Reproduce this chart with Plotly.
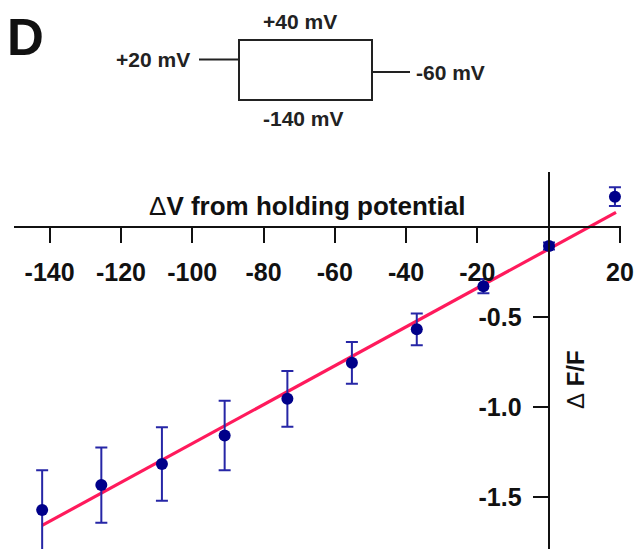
import plotly.graph_objects as go

# ---- data ----
dv_mv = [-142.1, -125.5, -108.5, -90.9, -73.3, -55.2, -37.0, -18.3, 0.1, 18.6]
dff = [-1.574, -1.435, -1.318, -1.159, -0.956, -0.756, -0.570, -0.330, -0.107, 0.167]
dff_err = [0.222, 0.209, 0.204, 0.193, 0.155, 0.116, 0.088, 0.040, 0.020, 0.052]

fit_x = [-142.1, 18.9]
fit_y = [-1.659, 0.080]

x_tick_vals = [-140, -120, -100, -80, -60, -40, -20, 20]
x_tick_text = ["-140", "-120", "-100", "-80", "-60", "-40", "-20", "20"]
y_tick_vals = [-1.5, -1.0, -0.5]
y_tick_text = ["-1.5", "-1.0", "-0.5"]

protocol_labels = ["+40 mV", "-140 mV", "+20 mV", "-60 mV"]
panel_label = "D"
x_title = "<span style='font-weight:normal'>Δ</span>V from holding potential"
y_title = "<span style='font-weight:normal'>Δ</span> F/F"

# ---- layout geometry ----
W, H = 642, 549
ML, MR, MT, MB = 14, 21, 172, 0
PW, PH = W - ML - MR, H - MT - MB
x_range = [-150.0, 20.3]
y_range = [-1.79, 0.304]

def px(xp):
    return (xp - ML) / PW

def py(yp):
    return (H - MB - yp) / PH

FONT = "Liberation Sans, Arial, sans-serif"
BLACK = "#111111"

fig = go.Figure()

fig.add_trace(go.Scatter(
    x=fit_x, y=fit_y, mode="lines",
    line=dict(color="#FF1A5C", width=3.2),
    showlegend=False, hoverinfo="skip",
))

fig.add_trace(go.Scatter(
    x=dv_mv, y=dff, mode="markers",
    marker=dict(color="#00008A", size=12),
    error_y=dict(type="data", array=dff_err, visible=True,
                 color="#2626A6", thickness=2, width=6),
    showlegend=False,
))

x_pos = (0 - y_range[0]) / (y_range[1] - y_range[0])
y_pos = (0 - x_range[0]) / (x_range[1] - x_range[0])

fig.update_layout(
    width=W, height=H,
    margin=dict(l=ML, r=MR, t=MT, b=MB, pad=0),
    paper_bgcolor="white", plot_bgcolor="white",
    showlegend=False,
    xaxis=dict(
        range=x_range, anchor="free", position=x_pos, side="bottom",
        showline=True, linecolor=BLACK, linewidth=2,
        ticks="outside", ticklen=15, tickwidth=2, tickcolor=BLACK,
        tickmode="array", tickvals=x_tick_vals, ticktext=x_tick_text,
        tickfont=dict(family=FONT, size=25, color=BLACK, weight=700),
        ticklabelstandoff=8,
        showgrid=False, zeroline=False, automargin=False, fixedrange=True,
    ),
    yaxis=dict(
        range=y_range, anchor="free", position=y_pos, side="left",
        showline=True, linecolor=BLACK, linewidth=2,
        ticks="outside", ticklen=15, tickwidth=2, tickcolor=BLACK,
        tickmode="array", tickvals=y_tick_vals, ticktext=y_tick_text,
        tickfont=dict(family=FONT, size=25, color=BLACK, weight=700),
        ticklabelstandoff=6,
        showgrid=False, zeroline=False, automargin=False, fixedrange=True,
    ),
)

annotations = [
    dict(text=x_title, x=px(307), y=py(206), xref="paper", yref="paper",
         showarrow=False, xanchor="center", yanchor="middle",
         font=dict(family=FONT, size=26, color=BLACK, weight=700)),
    dict(text=y_title, x=px(575), y=py(380), xref="paper", yref="paper",
         showarrow=False, xanchor="center", yanchor="middle", textangle=-90,
         font=dict(family=FONT, size=24, color=BLACK, weight=700)),
    dict(text=panel_label, x=px(25), y=py(37), xref="paper", yref="paper",
         showarrow=False, xanchor="center", yanchor="middle",
         font=dict(family=FONT, size=51, color=BLACK, weight=700)),
    dict(text=protocol_labels[0], x=px(300), y=py(22), xref="paper", yref="paper",
         showarrow=False, xanchor="center", yanchor="middle",
         font=dict(family=FONT, size=21, color="#222222", weight=700)),
    dict(text=protocol_labels[1], x=px(303), y=py(118), xref="paper", yref="paper",
         showarrow=False, xanchor="center", yanchor="middle",
         font=dict(family=FONT, size=21, color="#222222", weight=700)),
    dict(text=protocol_labels[2], x=px(192), y=py(60), xref="paper", yref="paper",
         showarrow=False, xanchor="right", yanchor="middle",
         font=dict(family=FONT, size=21, color="#222222", weight=700)),
    dict(text=protocol_labels[3], x=px(414), y=py(72), xref="paper", yref="paper",
         showarrow=False, xanchor="left", yanchor="middle",
         font=dict(family=FONT, size=21, color="#222222", weight=700)),
]
fig.update_layout(annotations=annotations)

line_style = dict(color="#222222", width=2)
shapes = [
    dict(type="rect", xref="paper", yref="paper",
         x0=px(239), x1=px(372), y0=py(100), y1=py(40), line=line_style),
    dict(type="line", xref="paper", yref="paper",
         x0=px(199), x1=px(239), y0=py(59.5), y1=py(59.5), line=line_style),
    dict(type="line", xref="paper", yref="paper",
         x0=px(372), x1=px(410), y0=py(72), y1=py(72), line=line_style),
]
fig.update_layout(shapes=shapes)

fig.write_html("out.html")
